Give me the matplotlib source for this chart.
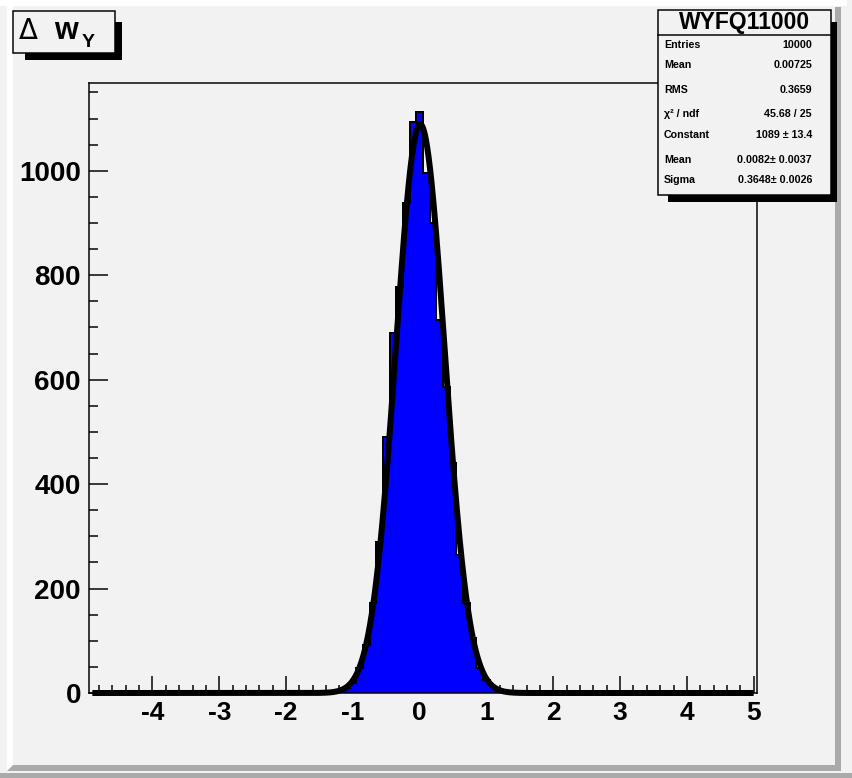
"""
plot.py - ROOT-style residual histogram (delta w_Y) with gaussian fit and stats box.
"""

import numpy as np
import matplotlib
matplotlib.use("Agg")
import matplotlib.pyplot as plt
from matplotlib.patches import Rectangle, Polygon
from matplotlib.ticker import MultipleLocator

# ── Data ────────────────────────────────────────────────────────────────────
BIN_WIDTH   = 0.1
BIN_CENTERS = [-1.3, -1.2, -1.1, -1.0, -0.9, -0.8, -0.7, -0.6, -0.5, -0.4,
               -0.3, -0.2, -0.1, 0.0, 0.1, 0.2, 0.3, 0.4, 0.5, 0.6,
               0.7, 0.8, 0.9, 1.0, 1.1, 1.2, 1.3, 1.4]
BIN_COUNTS  = [2, 4, 9, 19, 48, 92, 172, 290, 490, 690,
               778, 939, 1094, 1112, 995, 900, 715, 585, 441, 265,
               172, 105, 47, 25, 12, 5, 2, 1]
X_RANGE = (-4.95, 5.05)
Y_MAX   = 1168

# gaussian fit parameters (from the stats box)
FIT_CONSTANT = 1089
FIT_MEAN     = 0.0082
FIT_SIGMA    = 0.3648
FIT_RANGE    = (-4.9, 5.0)

HIST_NAME   = "WYFQ11000"
STAT_LABELS = ["Entries", "Mean", "RMS", "χ² / ndf", "Constant", "Mean", "Sigma"]
STAT_VALUES = ["10000", "0.00725", "0.3659", "45.68 / 25", "1089 ± 13.4",
               "0.0082± 0.0037", "0.3648± 0.0026"]

# ── Style ───────────────────────────────────────────────────────────────────
W, H = 853, 778
DPI  = 100
PT   = 72.0 / DPI          # one pixel in points
BG     = "#f2f2f2"
SHADOW = "#aaaaaa"

plt.rcParams["font.family"] = ["Liberation Sans", "DejaVu Sans"]
plt.rcParams["font.weight"] = "bold"
plt.rcParams["axes.unicode_minus"] = False

fig = plt.figure(figsize=(W / DPI, H / DPI), dpi=DPI, facecolor=BG)

# background layer in pixel coords (canvas / pad bevels)
bg = fig.add_axes([0, 0, 1, 1], zorder=0)
bg.set_xlim(0, W)
bg.set_ylim(H, 0)
bg.axis("off")
bg.add_patch(Rectangle((0, 0), 847, 6, color="white", lw=0))
bg.add_patch(Rectangle((7, 6), 6, 765, color="white", lw=0))
bg.add_patch(Polygon([(835, 7), (841, 7), (841, 771), (7, 771), (13, 765), (835, 765)],
                     closed=True, color=SHADOW, lw=0))
bg.add_patch(Rectangle((0, 773), W, 5, color=SHADOW, lw=0))

# ── Main frame ──────────────────────────────────────────────────────────────
left, right, top, bottom = 89, 757, 83, 693
ax = fig.add_axes([left / W, 1 - bottom / H, (right - left) / W, (bottom - top) / H],
                  zorder=1)
ax.set_facecolor(BG)

edges = np.append(np.array(BIN_CENTERS) - BIN_WIDTH / 2,
                  BIN_CENTERS[-1] + BIN_WIDTH / 2)
ax.stairs(BIN_COUNTS, edges, fill=True, color="#0000ff", zorder=2)
ax.stairs(BIN_COUNTS, edges, color="black", lw=2 * PT, baseline=0, zorder=3)

xf = np.linspace(FIT_RANGE[0], FIT_RANGE[1], 2000)
yf = FIT_CONSTANT * np.exp(-0.5 * ((xf - FIT_MEAN) / FIT_SIGMA) ** 2)
ax.plot(xf, yf, color="black", lw=6 * PT, clip_on=False, zorder=4,
        solid_capstyle="butt")

ax.set_xlim(*X_RANGE)
ax.set_ylim(0, Y_MAX)

ax.xaxis.set_major_locator(MultipleLocator(1))
ax.xaxis.set_minor_locator(MultipleLocator(0.2))
ax.yaxis.set_major_locator(MultipleLocator(200))
ax.yaxis.set_minor_locator(MultipleLocator(50))

ax.tick_params(axis="x", which="both", direction="in", top=False, width=1.5 * PT,
               labelsize=19, pad=8 * PT)
ax.tick_params(axis="x", which="major", length=17 * PT)
ax.tick_params(axis="x", which="minor", length=8 * PT)
ax.tick_params(axis="y", which="both", direction="in", right=False, width=1.5 * PT,
               labelsize=20, pad=8 * PT)
ax.tick_params(axis="y", which="major", length=19 * PT)
ax.tick_params(axis="y", which="minor", length=9 * PT)

for side in ("left", "top", "right", "bottom"):
    ax.spines[side].set_linewidth(1.5 * PT)

# ── Foreground layer: title box and stats box ───────────────────────────────
fg = fig.add_axes([0, 0, 1, 1], zorder=5)
fg.set_xlim(0, W)
fg.set_ylim(H, 0)
fg.axis("off")
fg.patch.set_alpha(0)

# title box
fg.add_patch(Rectangle((25, 22), 97, 38, color="black", lw=0))
fg.add_patch(Rectangle((13.5, 11), 102, 42, facecolor=BG, edgecolor="black", lw=1.5 * PT))
fg.text(19, 31, "Δ", fontsize=20, fontweight="normal", family="DejaVu Sans",
        va="center", ha="left")
fg.text(54, 38.5, "w", fontsize=22, va="baseline", ha="left")
fg.text(82, 47, "Y", fontsize=14, va="baseline", ha="left")

# stats box
bx0, bx1, by0, by1 = 658, 831, 10, 195
fg.add_patch(Rectangle((668, 21.5), 837.5 - 668, 201.5 - 21.5, color="black", lw=0))
fg.add_patch(Rectangle((bx0, by0), bx1 - bx0, by1 - by0, facecolor=BG,
                       edgecolor="black", lw=1.5 * PT))
fg.plot([bx0, bx1], [34.5, 34.5], color="black", lw=1.5 * PT)
fg.text((bx0 + bx1) / 2, 22.5, HIST_NAME, fontsize=16.5, ha="center", va="center")

row_y = [44.5, 65, 90, 113.5, 135, 159.5, 180]
for yy, lab, val in zip(row_y, STAT_LABELS, STAT_VALUES):
    fg.text(664, yy, lab, fontsize=7.7, ha="left", va="center")
    fg.text(812, yy, val, fontsize=7.7, ha="right", va="center")

fig.savefig("out.png", dpi=DPI, facecolor=BG)
